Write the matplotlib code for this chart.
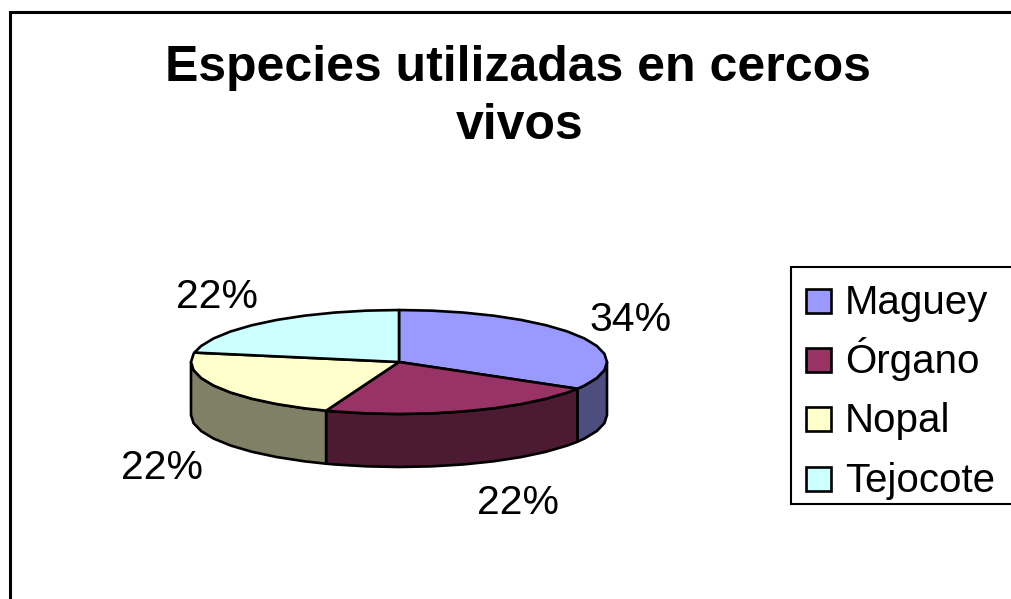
import matplotlib
matplotlib.use("Agg")
import matplotlib.pyplot as plt
from matplotlib.patches import Polygon, Rectangle
import numpy as np

plt.rcParams['font.family'] = ['Liberation Sans', 'DejaVu Sans']

species = ['Maguey', 'Órgano', 'Nopal', 'Tejocote']
shares = [33.6, 22.1, 22.2, 22.1]
top_colors = ['#9999FF', '#993366', '#FFFFCC', '#CCFFFF']
side_colors = ['#4D4D80', '#4D1A33', '#808066', '#668080']

W, H = 1011, 599
CX, CY, RX, RY, DEPTH = 399, 362, 208, 52, 53
LW = 1.9


def rim(t0, t1):
    """ Points on the top rim, degrees clockwise from 12 o'clock, coarse like the original. """
    inner = np.arange(np.ceil(t0 / 9) * 9, t1, 9)
    t = np.radians(np.concatenate(([t0], inner, [t1])))
    return np.column_stack((CX + RX * np.sin(t), CY - RY * np.cos(t)))


fig = plt.figure(figsize=(W / 100, H / 100), dpi=100)
ax = fig.add_axes([0, 0, 1, 1])
ax.set_xlim(0, W)
ax.set_ylim(H, 0)
ax.axis('off')

# chart frame, cut by the right and bottom of the image
ax.add_patch(Rectangle((9.5, 11.5), W + 20, H + 20, fc='white', ec='black', lw=2.2))

edges = np.concatenate(([0], np.cumsum(shares))) * 360 / sum(shares)

# side walls first, only the front half shows
for i in range(len(shares)):
    a, b = max(edges[i], 90), min(edges[i + 1], 270)
    if a >= b:
        continue
    top = rim(a, b)
    low = top[::-1] + [0, DEPTH]
    ax.add_patch(Polygon(np.vstack((top, low)), fc=side_colors[i], ec='black', lw=LW, joinstyle='round'))

for i in range(len(shares)):
    pts = np.vstack(([[CX, CY]], rim(edges[i], edges[i + 1])))
    ax.add_patch(Polygon(pts, fc=top_colors[i], ec='black', lw=LW, joinstyle='round'))

# data labels
label_xy = [(631, 331), (518, 514), (162, 479), (217, 308)]
for v, (x, y) in zip(shares, label_xy):
    ax.text(x, y, f'{round(v)}%', fontsize=29.5, ha='center', va='baseline', color='black')

ax.text(518, 81, 'Especies utilizadas en cercos', fontsize=36, fontweight='bold', ha='center', va='baseline')
ax.text(519.5, 139, 'vivos', fontsize=36, fontweight='bold', ha='center', va='baseline')

# legend
ax.add_patch(Rectangle((791, 267), W, 237, fc='white', ec='black', lw=1.5))
legend_base = [314, 373, 432, 492]
for name, col, y in zip(species, top_colors, legend_base):
    ax.add_patch(Rectangle((806, y - 25), 25, 24, fc=col, ec='black', lw=LW))
    ax.text(845, y, name, fontsize=29, ha='left', va='baseline', color='black')

fig.savefig('out.png', dpi=100)
